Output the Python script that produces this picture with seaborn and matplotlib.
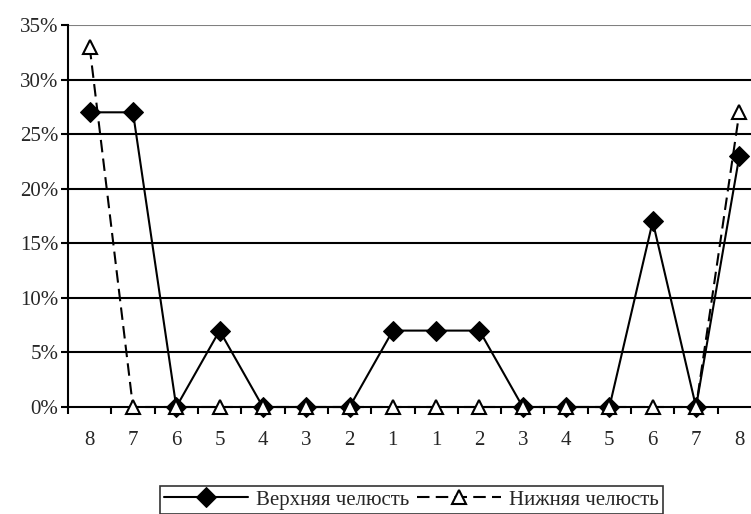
import numpy as np
import pandas as pd
import seaborn as sns
import matplotlib.pyplot as plt
from matplotlib.ticker import FixedLocator, FuncFormatter

# tooth numbers along the jaw
teeth = ['8', '7', '6', '5', '4', '3', '2', '1', '1', '2', '3', '4', '5', '6', '7', '8']
upper = [27, 27, 0, 7, 0, 0, 0, 7, 7, 7, 0, 0, 0, 17, 0, 23]
lower = [33, 0, 0, 0, 0, 0, 0, 0, 0, 0, 0, 0, 0, 0, 0, 27]
series_names = ['Верхняя челюсть', 'Нижняя челюсть']

sns.set_style("white")
plt.rcParams['font.family'] = ['Liberation Serif', 'DejaVu Serif']


def main():
	pos = np.arange(len(teeth))
	df = pd.DataFrame({'pos': pos, 'upper': upper, 'lower': lower})

	fig = plt.figure(figsize=(7.51, 5.14), dpi=100)
	ax = fig.add_axes([68 / 751, 1 - 407 / 514, 693 / 751, 382 / 514])

	# grid lines
	for v in range(5, 35, 5):
		ax.axhline(v, color='black', lw=1.5, zorder=1)
	ax.axhline(35, color='#808080', lw=1.5, zorder=1)
	ax.axhline(0, color='black', lw=1.5, zorder=2, clip_on=False)

	sns.lineplot(data=df, x='pos', y='upper', ax=ax, color='black', lw=1.5,
				 marker='D', markersize=10, markerfacecolor='black', markeredgecolor='black',
				 label=series_names[0], zorder=3, legend=False, clip_on=False)
	sns.lineplot(data=df, x='pos', y='lower', ax=ax, color='black', lw=1.5,
				 linestyle=(0, (6, 3)), marker='^', markersize=10, markerfacecolor='white',
				 markeredgecolor='black', markeredgewidth=1.5, label=series_names[1],
				 zorder=4, legend=False, clip_on=False)

	ax.set_xlim(-0.5, len(teeth) - 0.5)
	ax.set_ylim(0, 35)
	ax.set_xticks(pos)
	ax.set_xticklabels(teeth)
	ax.xaxis.set_minor_locator(FixedLocator(np.arange(-0.5, len(teeth), 1.0)))
	ax.set_yticks(range(0, 36, 5))
	ax.yaxis.set_major_formatter(FuncFormatter(lambda v, p: '%d%%' % v))
	ax.tick_params(axis='x', which='major', length=0, pad=17, labelsize=15)
	ax.tick_params(axis='x', which='minor', length=5, width=1.5, direction='out', color='black', bottom=True)
	ax.tick_params(axis='y', length=5, width=1.5, direction='out', color='black', left=True, pad=2, labelsize=15)
	ax.set_xlabel('')
	ax.set_ylabel('')

	for s in ['top', 'right', 'bottom']:
		ax.spines[s].set_visible(False)
	ax.spines['left'].set_color('black')
	ax.spines['left'].set_linewidth(1.5)

	handles, labels = ax.get_legend_handles_labels()
	leg = fig.legend(handles, labels, loc='upper center', bbox_to_anchor=(0.548, 1 - 486 / 514),
					 ncol=2, frameon=True, fancybox=False, edgecolor='black', fontsize=15,
					 handlelength=4.0, columnspacing=0.4, handletextpad=0.4, borderpad=0.2,
					 borderaxespad=0)
	leg.get_frame().set_linewidth(1.2)

	plt.savefig('out.png', dpi=100)


if __name__ == '__main__':
	main()
